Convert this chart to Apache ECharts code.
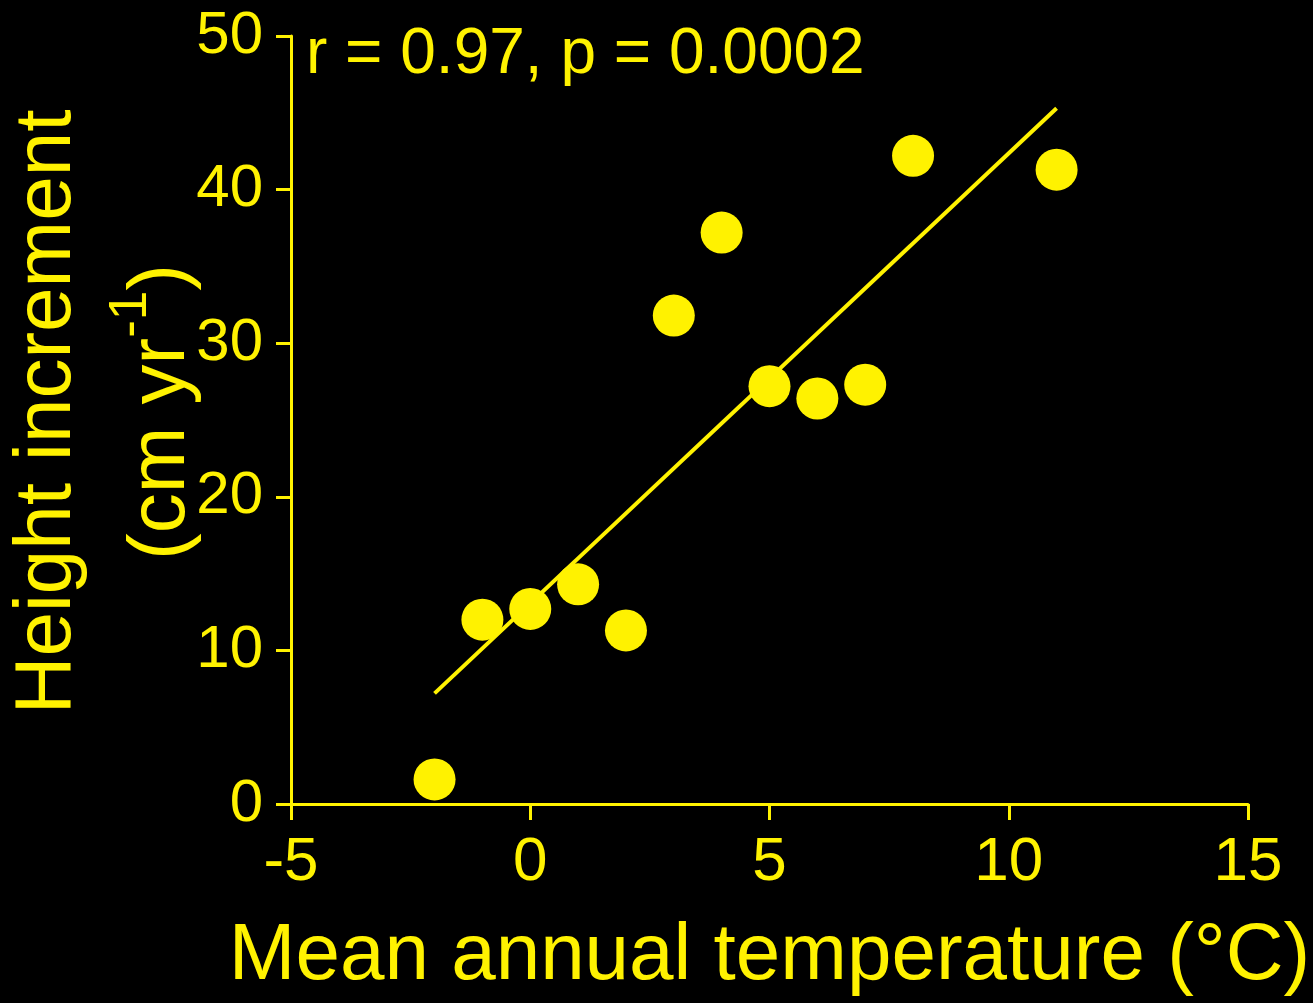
<!DOCTYPE html>
<html>
<head>
<meta charset="utf-8">
<title>Height increment vs mean annual temperature</title>
<script src="https://cdn.jsdelivr.net/npm/echarts@6/dist/echarts.min.js"></script>
<style>
  html, body { margin: 0; padding: 0; background: #000; }
  #chart { width: 1313px; height: 1003px; }
</style>
</head>
<body>
<div id="chart"></div>
<script>
// Site means: mean annual temperature (°C) and height increment (cm/yr)
const temperature = [-2, -1, 0, 1, 2, 3, 4, 5, 6, 7, 8, 11];
const heightIncrement = [1.6, 12.0, 12.7, 14.3, 11.3, 31.8, 37.2, 27.2, 26.4, 27.3, 42.2, 41.3];

// Endpoints of the fitted regression line
const fitX = [-2, 11];
const fitY = [7.2, 45.3];

// Axis ticks
const xTicks = [-5, 0, 5, 10, 15];
const yTicks = [0, 10, 20, 30, 40, 50];

const statsText = 'r = 0.97, p = 0.0002';

const YELLOW = '#fff200';
const FONT = '"Liberation Sans", Arial, sans-serif';

const chart = echarts.init(document.getElementById('chart'), null, { renderer: 'canvas' });

const axisCommon = {
  type: 'value',
  nameLocation: 'middle',
  nameMoveOverlap: false,
  splitLine: { show: false },
  axisLine: { show: true, onZero: false, lineStyle: { color: YELLOW, width: 3 } },
  axisTick: { show: true, inside: false, lineStyle: { color: YELLOW, width: 3 } }
};

chart.setOption({
  backgroundColor: '#000',
  animation: false,
  title: {
    text: statsText,
    left: 306,
    top: 23,
    padding: 0,
    textStyle: { color: YELLOW, fontFamily: FONT, fontSize: 64, fontWeight: 'normal', lineHeight: 64 }
  },
  grid: { left: 289, right: 65, top: 36, bottom: 199, containLabel: false },
  xAxis: Object.assign({}, axisCommon, {
    min: xTicks[0],
    max: xTicks[xTicks.length - 1],
    interval: xTicks[1] - xTicks[0],
    name: 'Mean annual temperature (°C)',
    nameGap: 113,
    nameTextStyle: { color: YELLOW, fontFamily: FONT, fontSize: 80, lineHeight: 80 },
    axisTick: Object.assign({}, axisCommon.axisTick, { length: 16 }),
    axisLabel: { color: YELLOW, fontFamily: FONT, fontSize: 62, margin: 28 }
  }),
  yAxis: Object.assign({}, axisCommon, {
    min: yTicks[0],
    max: yTicks[yTicks.length - 1],
    interval: yTicks[1] - yTicks[0],
    name: '{t|Height increment}\n{t|(cm yr}{s|-1}{t|)}',
    nameRotate: 90,
    nameGap: 72,
    nameTextStyle: {
      color: YELLOW,
      fontFamily: FONT,
      padding: [0, 0, 0, 16],
      rich: {
        t: { color: YELLOW, fontFamily: FONT, fontSize: 80, lineHeight: 114 },
        s: { color: YELLOW, fontFamily: FONT, fontSize: 53, lineHeight: 53, verticalAlign: 'top' }
      }
    },
    axisTick: Object.assign({}, axisCommon.axisTick, { length: 15 }),
    axisLabel: { color: YELLOW, fontFamily: FONT, fontSize: 60, margin: 28 }
  }),
  series: [
    {
      type: 'line',
      data: fitX.map((x, i) => [x, fitY[i]]),
      symbol: 'none',
      lineStyle: { color: YELLOW, width: 4, cap: 'butt' },
      z: 2
    },
    {
      type: 'scatter',
      data: temperature.map((t, i) => [t, heightIncrement[i]]),
      symbol: 'circle',
      symbolSize: 42,
      itemStyle: { color: YELLOW, opacity: 1 },
      z: 3
    }
  ]
});
</script>
</body>
</html>
